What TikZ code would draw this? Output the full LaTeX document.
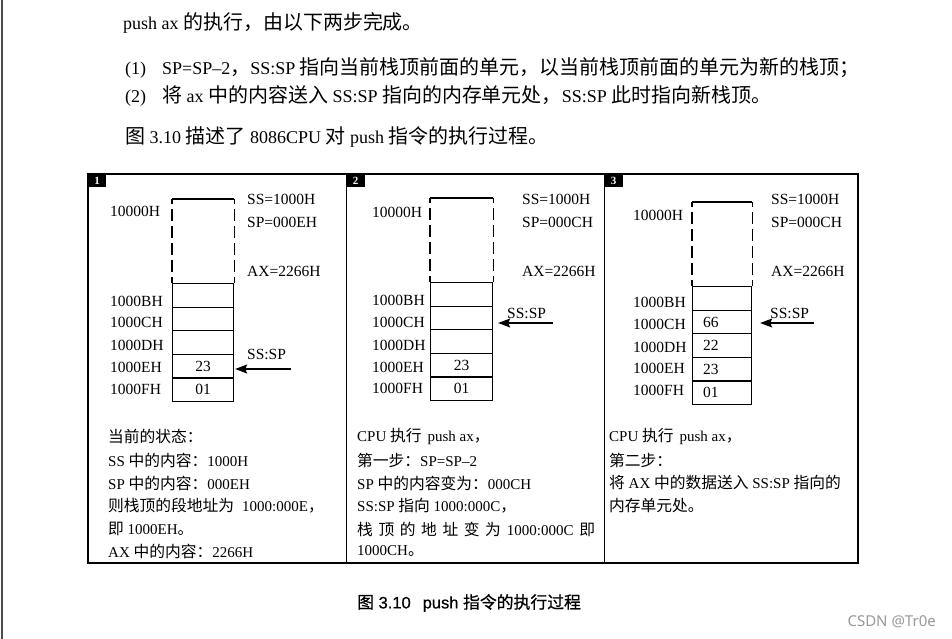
\documentclass[tikz,border=0pt]{standalone}
\usepackage{fontspec}
\setmainfont{Liberation Serif}
\newfontfamily\cjk[Scale=1.05]{Noto Sans CJK SC}
\newfontfamily\cjkh[Scale=1.11]{Noto Sans CJK SC}
\newfontfamily\cjkb[Scale=1.02,FakeBold=0.8]{Noto Sans CJK SC}
\newfontfamily\capsans[FakeBold=0.6]{Liberation Sans}
\newfontfamily\wmfont{Noto Sans}
\newcommand\zh[1]{{\cjk #1}}
\newcommand\zhh[1]{{\cjkh #1}}
\newcommand\zhb[1]{{\cjkb #1}}
\usetikzlibrary{arrows.meta}
\newcommand\mystack[4]{%
  \foreach \i/\n in {0/b,1/c,2/d,3/e,4/f}
    \node[cell, minimum width=#4pt, anchor=north west] (#1\n) at (#2, {#3+\i*23.6}) {};
  \draw[stk] ([yshift=84pt]#1b.north west) -- ([yshift=84pt]#1b.north east);
  \draw[stk, dashside] ([yshift=84pt]#1b.north west) -- (#1b.north west);
  \draw[stk, dashside] ([yshift=84pt]#1b.north east) -- (#1b.north east);
}
\begin{document}
\begin{tikzpicture}[x=1pt,y=-1pt,
  hdr/.style={anchor=west, inner sep=0pt, font=\fontsize{18}{20}\selectfont},
  lab/.style={anchor=west, inner sep=0pt, font=\fontsize{15.5}{18}\selectfont},
  txt/.style={anchor=west, inner sep=0pt, font=\fontsize{15}{18}\selectfont},
  val/.style={inner sep=0pt, font=\fontsize{15.5}{18}\selectfont},
  cell/.style={draw, line width=1.2pt, minimum height=23.6pt, inner sep=0pt},
  stk/.style={line width=1.2pt},
  dashside/.style={dash pattern=on 12pt off 5pt, dash phase=7pt},
  tbl/.style={line width=1.7pt},
  numsq/.style={fill=black, text=white, anchor=north west, minimum width=18pt, minimum height=13pt, inner sep=0pt, font=\fontsize{11}{12}\selectfont\bfseries},
  arr/.style={line width=1.2pt, -{Stealth[length=12pt,width=9pt,inset=2pt]}}
]
\useasboundingbox (0,0) rectangle (952,639);
\fill[white] (0,0) rectangle (952,639);
\draw[gray!60!black, line width=1.5pt] (2,0) -- (2,639);

% header
\node[hdr] (h1) at (123,23) {push ax \zhh{的执行，由以下两步完成。}};
\node[hdr] (h2) at (125,68) {(1)\hspace{16pt}SP=SP–2\zhh{，}SS:SP \zhh{指向当前栈顶前面的单元，以当前栈顶前面的单元为新的栈顶；}};
\node[hdr] (h3) at (125,96) {(2)\hspace{16pt}\zhh{将} ax \zhh{中的内容送入} SS:SP \zhh{指向的内存单元处，}SS:SP \zhh{此时指向新栈顶。}};
\node[hdr] (h4) at (125,137) {\zhh{图} 3.10 \zhh{描述了} 8086CPU \zhh{对} push \zhh{指令的执行过程。}};

% table
\draw[tbl] (88,174) rectangle (858,563);
\draw[tbl] (346.5,174) -- (346.5,563);
\draw[tbl] (604.5,174) -- (604.5,563);
\node[numsq] (n1) at (88,174) {1};
\node[numsq] (n2) at (346.5,174) {2};
\node[numsq] (n3) at (604.5,174) {3};

% panel 1
\mystack{p1}{172}{283}{61}
\node[lab] (p1l0) at (110,211) {10000H};
\node[lab] (p1lb) at (110,301) {1000BH};
\node[lab] (p1lc) at (110,322) {1000CH};
\node[lab] (p1ld) at (110,345) {1000DH};
\node[lab] (p1le) at (110,367) {1000EH};
\node[lab] (p1lf) at (110,389) {1000FH};
\node[val] at (p1e) {23};
\node[val] at (p1f) {01};
\node[lab] (p1ss) at (247,199) {SS=1000H};
\node[lab] (p1sp) at (247,222) {SP=000EH};
\node[lab] (p1ax) at (247,271) {AX=2266H};
\node[lab] (p1ptr) at (247,354) {SS:SP};
\coordinate (a1) at (291,369);
\draw[arr, shorten >=1pt] (a1) -- (a1 -| p1e.east);

% panel 2
\mystack{p2}{430}{282}{62}
\node[lab] (p2l0) at (372,212) {10000H};
\node[lab] (p2lb) at (372,300) {1000BH};
\node[lab] (p2lc) at (372,322) {1000CH};
\node[lab] (p2ld) at (372,345) {1000DH};
\node[lab] (p2le) at (372,367) {1000EH};
\node[lab] (p2lf) at (372,388) {1000FH};
\node[val] at (p2e) {23};
\node[val] at (p2f) {01};
\node[lab] (p2ss) at (522,199) {SS=1000H};
\node[lab] (p2sp) at (522,222) {SP=000CH};
\node[lab] (p2ax) at (522,271) {AX=2266H};
\node[lab] (p2ptr) at (507,313) {SS:SP};
\coordinate (a2) at (553,323);
\draw[arr, shorten >=5pt] (a2) -- (a2 -| p2c.east);

% panel 3
\mystack{p3}{692}{286}{59}
\node[lab] (p3l0) at (633,215) {10000H};
\node[lab] (p3lb) at (633,302) {1000BH};
\node[lab] (p3lc) at (633,324) {1000CH};
\node[lab] (p3ld) at (633,347) {1000DH};
\node[lab] (p3le) at (633,368) {1000EH};
\node[lab] (p3lf) at (633,390) {1000FH};
\node[val, anchor=west] at ([xshift=11pt]p3c.west) {66};
\node[val, anchor=west] at ([xshift=11pt]p3d.west) {22};
\node[val, anchor=west] at ([xshift=11pt]p3e.west) {23};
\node[val, anchor=west] at ([xshift=11pt]p3f.west) {01};
\node[lab] (p3ss) at (771,199) {SS=1000H};
\node[lab] (p3sp) at (771,222) {SP=000CH};
\node[lab] (p3ax) at (771,271) {AX=2266H};
\node[lab] (p3ptr) at (770,313) {SS:SP};
\coordinate (a3) at (814,323);
\draw[arr, shorten >=8pt] (a3) -- (a3 -| p3c.east);

% bottom texts panel 1
\node[txt] (t11) at (108,436) {\zh{当前的状态：}};
\node[txt] (t12) at (108,460) {SS \zh{中的内容：}1000H};
\node[txt] (t13) at (108,483) {SP \zh{中的内容：}000EH};
\node[txt] (t14) at (108,506) {\zh{则栈顶的段地址为}\hspace{8pt}1000:000E\zh{，}};
\node[txt] (t15) at (108,529) {\zh{即} 1000EH\zh{。}};
\node[txt] (t16) at (108,551) {AX \zh{中的内容：}2266H};

% bottom texts panel 2
\node[txt] (t21) at (357,436) {CPU \zh{执行}\hspace{6pt}push ax\zh{，}};
\node[txt] (t22) at (357,460) {\zh{第一步：}SP=SP–2};
\node[txt] (t23) at (357,483) {SP \zh{中的内容变为：}000CH};
\node[txt] (t24) at (357,506) {SS:SP \zh{指向} 1000:000C\zh{，}};
\node[txt] (t25) at (357,529) {\makebox[238pt][s]{\zh{栈 顶 的 地 址 变 为} 1000:000C \zh{即}}};
\node[txt] (t26) at (357,551) {1000CH\zh{。}};

% bottom texts panel 3
\node[txt] (t31) at (609,436) {CPU \zh{执行}\hspace{6pt}push ax\zh{，}};
\node[txt] (t32) at (609,460) {\zh{第二步：}};
\node[txt] (t33) at (609,483) {\zh{将} AX \zh{中的数据送入} SS:SP \zh{指向的}};
\node[txt] (t34) at (609,506) {\zh{内存单元处。}};

% caption and watermark
\node[anchor=west, inner sep=0pt, font=\capsans\fontsize{16.5}{18}\selectfont] (cap) at (357,603) {\zhb{图} 3.10\hspace{12pt}push \zhb{指令的执行过程}};
\node[anchor=east, inner sep=0pt, text=gray!80, font=\wmfont\fontsize{15}{17}\selectfont] (wm) at (936,622) {CSDN @Tr0e};
\end{tikzpicture}
\end{document}
